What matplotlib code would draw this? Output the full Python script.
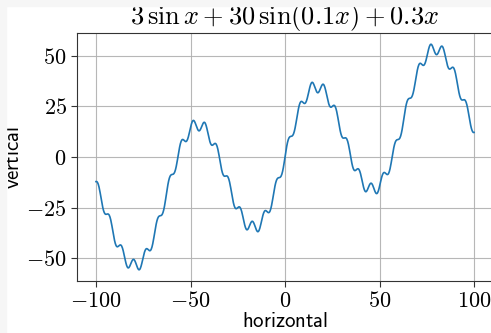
import numpy as np
import matplotlib.pyplot as plt
from matplotlib.patches import Rectangle

plt.rcParams['mathtext.fontset'] = 'cm'

# coefficients: 3 sin x + 30 sin(0.1x) + 0.3x
x_range = [-100, 100]
amp_fast = 3
amp_slow = 30
freq_slow = 0.1
slope = 0.3

x_ticks = [-100, -50, 0, 50, 100]
y_ticks = [-50, -25, 0, 25, 50]

x = np.linspace(x_range[0], x_range[1], 1000)
y = amp_fast * np.sin(x) + amp_slow * np.sin(freq_slow * x) + slope * x

fig = plt.figure(figsize=(4.91, 3.33), dpi=100)
# thin light-grey strip along the left and top edges
fig.patches.append(Rectangle((0, 0), 6 / 491, 1, transform=fig.transFigure,
                             color='#f6f6f6', zorder=0))
fig.patches.append(Rectangle((0, 1 - 6 / 333), 1, 6 / 333, transform=fig.transFigure,
                             color='#f6f6f6', zorder=0))
ax1 = fig.add_axes([0.157, 0.156, 0.847, 0.745])

ax1.plot(x, y, color='#1f77b4', lw=1.2, zorder=3)
ax1.grid(True, color='#b0b0b0', lw=0.8, alpha=0.9)
ax1.set_axisbelow(True)

ax1.set_xticks(x_ticks)
ax1.set_yticks(y_ticks)
ax1.set_xticklabels([r'$%d$' % v for v in x_ticks], fontsize=16)
ax1.set_yticklabels([r'$%d$' % v for v in y_ticks], fontsize=16)
for s in ax1.spines.values():
    s.set_color('#333333')
ax1.tick_params(colors='#333333', labelcolor='black', length=4)

ax1.set_title(r'$3\,\sin x + 30\,\sin(0.1x) + 0.3x$', fontsize=19, pad=4)
ax1.set_xlabel(r'$\mathsf{horizontal}$', fontsize=15, labelpad=0)
ax1.set_ylabel(r'$\mathsf{vertical}$', fontsize=15, labelpad=2)

fig.savefig('out.png', dpi=100)
